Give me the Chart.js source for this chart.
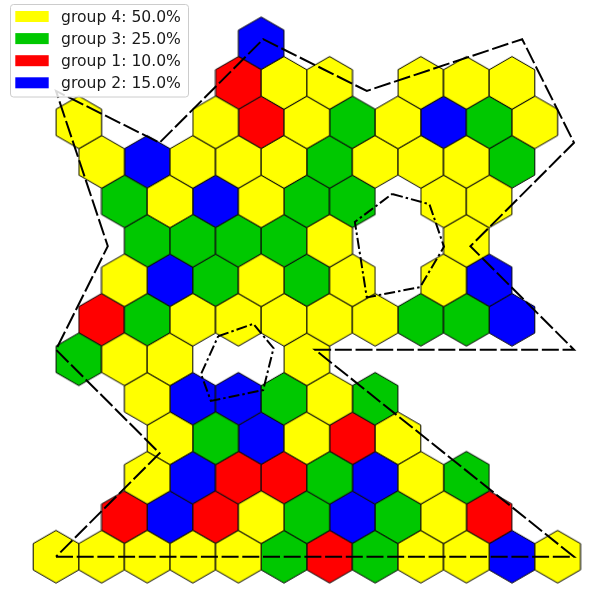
<!DOCTYPE html>
<html><head><meta charset="utf-8">
<script src="https://cdn.jsdelivr.net/npm/chart.js@4.4.1/dist/chart.umd.min.js"></script>
<style>html,body{margin:0;padding:0;background:#fff}#wrap{width:609px;height:599px}</style>
</head><body><div id="wrap"><canvas id="c" width="609" height="599"></canvas></div>
<script>
// ---- data ----
const groupNames  = ['group 4', 'group 3', 'group 1', 'group 2'];
const groupShares = [50.0, 25.0, 10.0, 15.0];
const groupCodes  = ['Y', 'G', 'R', 'B'];
const groupColors = ['#ffff00', '#00c800', '#ff0000', '#0000ff'];
// hex rows from bottom (row 0) to top; odd rows are shifted by half a column
const hexRows = [
  'YYYYYGRGYYBY',
  '.RBRYGBGYR..',
  '..YBRRGBYG..',
  '..YGBYRY....',
  '..YBBGYG....',
  'GYY..Y......',
  '.RGYYYYYGGB.',
  '.YBGYGY.YB..',
  '..GGGGY..Y..',
  '.GYBYGG.YY..',
  '.YBYYYGYYYG.',
  'Y..YRYGYBGY.',
  '....RYY.YYY.',
  '....B.......'
];
const outerX = [0, 10, 5, 10, 8, 10, 9, 6, 4, 2, 0, 1, 0, 2, 0];
const outerY = [0, 0, 4, 4, 6, 8, 10, 9, 10, 8, 9, 6, 4, 2, 0];
const hole1X = [6.49, 7.21, 7.49, 7.03, 6.00, 5.77, 6.49];
const hole1Y = [7.01, 6.81, 5.99, 5.21, 5.01, 6.47, 7.01];
const hole2X = [3.13, 3.81, 4.20, 4.00, 2.99, 2.80, 3.13];
const hole2Y = [4.26, 4.50, 4.03, 3.22, 3.01, 3.53, 4.26];

// ---- layout / style constants ----
const COL_STEP = 0.8803, ROW_STEP = 0.7630;
const HEX_R_PX = 26.33;

function hexImage(color) {
  const W = 48, H = 56;
  const cv = document.createElement('canvas');
  cv.width = W; cv.height = H;
  const g = cv.getContext('2d');
  g.beginPath();
  for (let i = 0; i < 6; i++) {
    const a = Math.PI / 180 * (90 + 60 * i);
    const px = W / 2 + HEX_R_PX * Math.cos(a), py = H / 2 - HEX_R_PX * Math.sin(a);
    if (i) g.lineTo(px, py); else g.moveTo(px, py);
  }
  g.closePath();
  g.fillStyle = color; g.fill();
  g.lineWidth = 1; g.strokeStyle = '#000'; g.stroke();
  return cv;
}

const hexDatasets = groupCodes.map((code, gi) => {
  const pts = [];
  hexRows.forEach((row, r) => {
    for (let k = 0; k < row.length; k++) {
      if (row[k] === code) {
        const c = k + (r % 2 ? 0.5 : 0);
        pts.push({ x: c * COL_STEP, y: r * ROW_STEP });
      }
    }
  });
  return {
    type: 'scatter',
    label: groupNames[gi] + ': ' + groupShares[gi].toFixed(1) + '%',
    data: pts,
    pointStyle: hexImage(groupColors[gi]),
    pointRadius: 1,
    backgroundColor: groupColors[gi],
    borderColor: groupColors[gi],
    order: 2
  };
});

function poly(xs, ys, dash) {
  return {
    type: 'line',
    data: xs.map((x, i) => ({ x: x, y: ys[i] })),
    borderColor: '#000',
    borderWidth: 2,
    borderDash: dash,
    borderCapStyle: 'butt',
    borderJoinStyle: 'miter',
    pointRadius: 0,
    fill: false,
    tension: 0,
    order: 0
  };
}

const legendPlugin = {
  id: 'boxLegend',
  afterDraw(chart) {
    const ctx = chart.ctx;
    ctx.save();
    const x0 = 10.5, y0 = 4.5, w = 178, h = 92.5, rr = 3;
    ctx.beginPath();
    ctx.moveTo(x0 + rr, y0);
    ctx.arcTo(x0 + w, y0, x0 + w, y0 + h, rr);
    ctx.arcTo(x0 + w, y0 + h, x0, y0 + h, rr);
    ctx.arcTo(x0, y0 + h, x0, y0, rr);
    ctx.arcTo(x0, y0, x0 + w, y0, rr);
    ctx.closePath();
    ctx.fillStyle = 'rgba(255,255,255,0.85)';
    ctx.fill();
    ctx.strokeStyle = '#cccccc';
    ctx.lineWidth = 1;
    ctx.stroke();
    ctx.font = '15.6px "DejaVu Sans"';
    ctx.textBaseline = 'alphabetic';
    ctx.textAlign = 'left';
    chart.data.datasets.filter(d => d.type === 'scatter').forEach((d, i) => {
      const base = 22 + 22.1 * i;
      ctx.fillStyle = d.backgroundColor;
      ctx.fillRect(15.3, base - 11, 33.4, 11);
      ctx.fillStyle = '#1a1a1a';
      ctx.fillText(d.label, 61, base);
    });
    ctx.restore();
  }
};

new Chart(document.getElementById('c'), {
  data: {
    datasets: [
      poly(outerX, outerY, [17, 3.7]),
      poly(hole1X, hole1Y, [11, 3, 2.5, 3]),
      poly(hole2X, hole2Y, [11, 3, 2.5, 3]),
      ...hexDatasets
    ]
  },
  options: {
    responsive: false,
    animation: false,
    events: [],
    layout: { padding: 0, autoPadding: false },
    scales: {
      x: { type: 'linear', min: -1.081, max: 10.676, display: false, bounds: 'data' },
      y: { type: 'linear', min: -0.817, max: 10.757, display: false, bounds: 'data' }
    },
    plugins: { legend: { display: false }, tooltip: { enabled: false } }
  },
  plugins: [legendPlugin]
});
</script>
</body></html>
